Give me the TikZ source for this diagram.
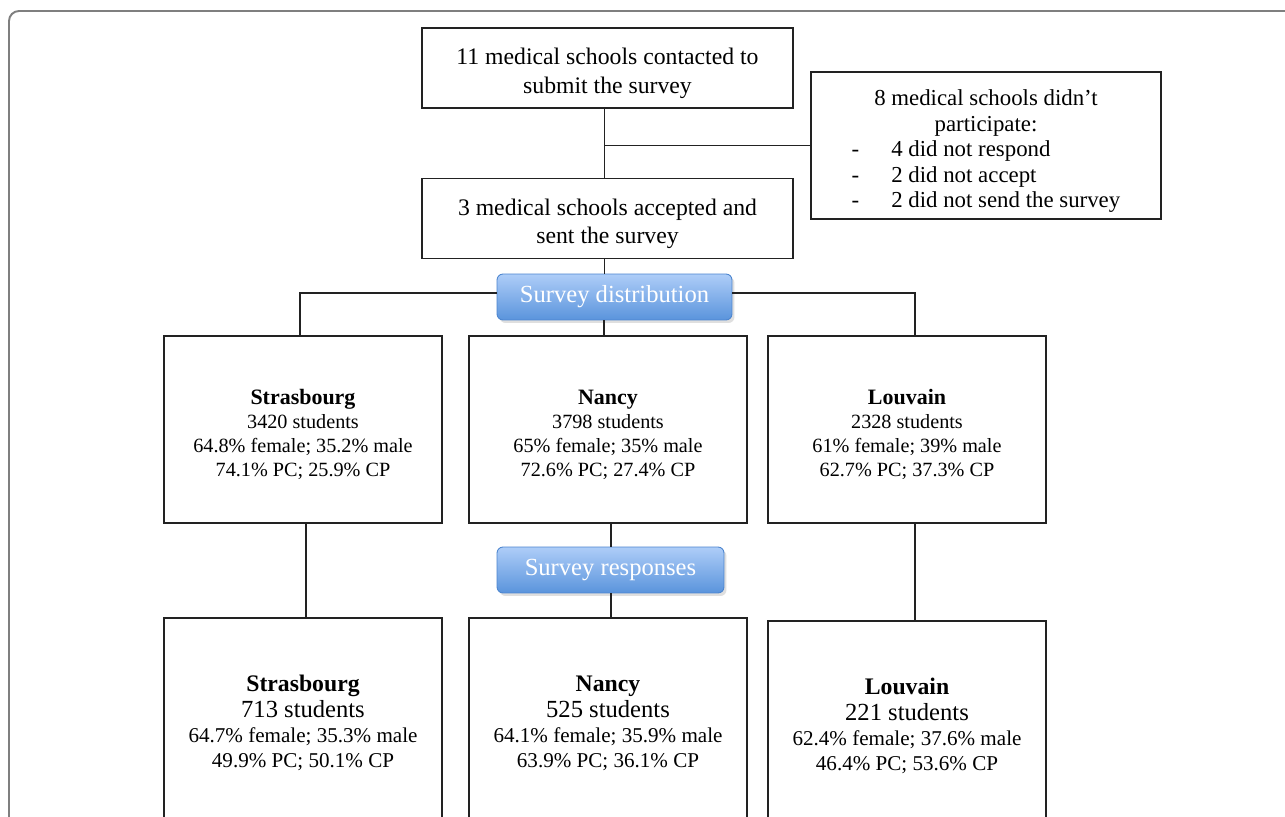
\documentclass[tikz,border=0pt]{standalone}
\usepackage{fontspec}
\setmainfont{Liberation Serif}
\usetikzlibrary{shadows}
\usetikzlibrary{positioning}
\usetikzlibrary{calc}

\definecolor{btntop}{HTML}{AECDF8}
\definecolor{btnbot}{HTML}{5A94DC}
\definecolor{btnline}{HTML}{4C85CF}
\definecolor{framegray}{HTML}{7F7F7F}
\definecolor{boxline}{HTML}{222222}

\newcommand{\toppad}[1]{\rule{0pt}{#1}}

\begin{document}
\begin{tikzpicture}
    [x=0.02cm, y=-0.02cm,
    topbox/.style={draw=boxline, line width=1pt, align=center, minimum width=7.42cm, minimum height=1.6cm, font=\fontsize{13.5}{16}\selectfont},
    schoolbox/.style={draw=boxline, line width=1pt, align=center, minimum width=5.56cm, minimum height=3.74cm, font=\fontsize{11.5}{13.6}\selectfont},
    resultbox/.style={schoolbox, minimum height=4.08cm, font=\fontsize{12}{14.4}\selectfont},
    button/.style={draw=btnline, line width=0.5pt, rounded corners=0.12cm, top color=btntop, bottom color=btnbot, drop shadow={opacity=0.25, shadow xshift=0.05cm, shadow yshift=-0.06cm}, text=white, minimum height=0.92cm, font=\fontsize{14}{16}\selectfont},
    link/.style={draw=boxline, line width=1pt}]

    \clip (0,0) rectangle (1285,817);
    \fill [white] (0,0) rectangle (1285,817);

    % outer frame
    \draw [framegray, line width=1.1pt, rounded corners=0.2cm] (9,840) -- (9,11) -- (1310,11);

    % selection of schools
    \node [topbox] (contact) at (607.5,68) {\toppad{15.5pt}11 medical schools contacted to\\submit the survey};
    \node [topbox] (accept) at (607.5,218.5) {\toppad{15.5pt}3 medical schools accepted and\\sent the survey};
    \node [draw=boxline, line width=1pt, minimum width=7cm, minimum height=2.94cm, inner sep=0pt] (nopart) at (986,145.5)
    {\fontsize{13}{14.5}\selectfont
    \begin{tabular}{@{}l@{\hspace{0.64cm}}l@{}}
    \multicolumn{2}{c}{\toppad{17pt}8 medical schools didn't}\\
    \multicolumn{2}{c}{participate:}\\
    - & 4 did not respond\\
    - & 2 did not accept\\
    - & 2 did not send the survey
    \end{tabular}};

    \draw [link] ($(contact.south)+(-3,0)$) -- ($(accept.north)+(-3,0)$);
    \draw [link] (nopart.west) -- (nopart.west -| {$(contact.south)+(-3,0)$});

    % distribution
    \node [button, minimum width=4.7cm] (distrib) at (614.5,297) {Survey distribution};

    \node [schoolbox] (strasA) at (303,429.5) {\toppad{14.2pt}\textbf{\fontsize{12.5}{14}\selectfont Strasbourg}\\3420 students\\64.8\% female; 35.2\% male\\74.1\% PC; 25.9\% CP};
    \node [schoolbox] (nancyA) at (608,429.5) {\toppad{14.2pt}\textbf{\fontsize{12.5}{14}\selectfont Nancy}\\3798 students\\65\% female; 35\% male\\72.6\% PC; 27.4\% CP};
    \node [schoolbox] (louvainA) at (907,429.5) {\toppad{14.2pt}\textbf{\fontsize{12.5}{14}\selectfont Louvain}\\2328 students\\61\% female; 39\% male\\62.7\% PC; 37.3\% CP};

    \draw [link] ($(accept.south)+(-3,0)$) -- ($(accept.south |- distrib.north)+(-3,0)$);
    \draw [link] ($(distrib.west)+(0,-4)$) -| ($(strasA.north)+(-3,0)$);
    \draw [link] ($(distrib.east)+(0,-4)$) -| ($(louvainA.north)+(8,0)$);
    \draw [link] ($(nancyA.north |- distrib.south)+(-4,0)$) -- ($(nancyA.north)+(-4,0)$);

    % responses
    \node [button, minimum width=4.54cm] (respons) at (610.5,570) {Survey responses};

    \node [resultbox] (strasB) at (303,720) {\toppad{13pt}\textbf{\fontsize{13.5}{16}\selectfont Strasbourg}\\{\fontsize{14}{16}\selectfont 713 students}\\64.7\% female; 35.3\% male\\49.9\% PC; 50.1\% CP};
    \node [resultbox] (nancyB) at (608,720) {\toppad{13pt}\textbf{\fontsize{13.5}{16}\selectfont Nancy}\\{\fontsize{14}{16}\selectfont 525 students}\\64.1\% female; 35.9\% male\\63.9\% PC; 36.1\% CP};
    \node [resultbox] (louvainB) at (907,723) {\toppad{13pt}\textbf{\fontsize{13.5}{16}\selectfont Louvain}\\{\fontsize{14}{16}\selectfont 221 students}\\62.4\% female; 37.6\% male\\46.4\% PC; 53.6\% CP};

    \draw [link] ($(strasA.south)+(3,0)$) -- ($(strasB.north)+(3,0)$);
    \draw [link] ($(nancyA.south)+(3,0)$) -- ($(nancyA.south |- respons.north)+(3,0)$);
    \draw [link] ($(nancyB.north |- respons.south)+(3,0)$) -- ($(nancyB.north)+(3,0)$);
    \draw [link] ($(louvainA.south)+(8,0)$) -- ($(louvainB.north)+(8,0)$);
\end{tikzpicture}
\end{document}
